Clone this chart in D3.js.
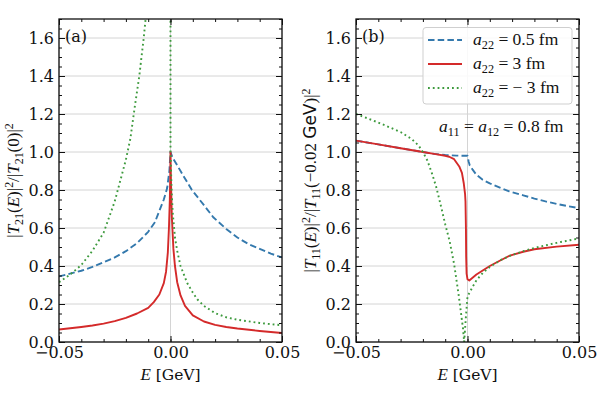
<!DOCTYPE html>
<html>
<head>
<meta charset="utf-8">
<script src="https://cdn.jsdelivr.net/npm/d3@7"></script>
<style>
  body { margin: 0; background: #fff; }
  text { white-space: pre; }
</style>
</head>
<body>
<svg id="chart" width="600" height="395"></svg>
<script>
// values, [E in GeV, ratio]
const blueA = [[-0.05,0.345],[-0.045,0.36],[-0.04,0.375],[-0.035,0.395],[-0.03,0.42],[-0.025,0.445],[-0.02,0.478],
  [-0.015,0.52],[-0.01,0.58],[-0.007,0.63],[-0.005,0.69],[-0.003,0.75],[-0.0015,0.81],[-0.0005,0.9],[0,1.0],
  [0.001,0.968],[0.003,0.93],[0.006,0.87],[0.0096,0.8],[0.015,0.72],[0.0193,0.655],[0.025,0.595],[0.03,0.55],
  [0.035,0.515],[0.04,0.49],[0.045,0.465],[0.05,0.445]];
const redA = [[-0.05,0.066],[-0.045,0.072],[-0.04,0.079],[-0.035,0.087],[-0.03,0.097],[-0.025,0.11],[-0.02,0.127],
  [-0.015,0.15],[-0.01,0.18],[-0.0075,0.21],[-0.005,0.25],[-0.003,0.31],[-0.002,0.37],[-0.0012,0.47],[-0.0007,0.6],
  [-0.0003,0.75],[-0.0001,0.88],[0,1.0],[0.0002,0.85],[0.0006,0.66],[0.0013,0.49],[0.002,0.4],[0.003,0.315],
  [0.0045,0.245],[0.0065,0.19],[0.01,0.14],[0.015,0.108],[0.02,0.09],[0.025,0.079],[0.03,0.071],[0.04,0.058],[0.05,0.047]];
const greenA = [[-0.05,0.315],[-0.045,0.355],[-0.04,0.405],[-0.035,0.48],[-0.03,0.575],[-0.025,0.74],[-0.02,0.96],
  [-0.018,1.07],[-0.016,1.24],[-0.014,1.4],[-0.012,1.6],[-0.011,1.72],[-0.009,1.95],[0,1.95],[0,1.0],
  [0.0005,0.8],[0.001,0.68],[0.002,0.55],[0.003,0.48],[0.0045,0.4],[0.0075,0.31],[0.01,0.26],[0.012,0.225],
  [0.015,0.19],[0.02,0.152],[0.025,0.13],[0.03,0.117],[0.04,0.1],[0.05,0.088]];

const blueB = [[-0.05,1.06],[-0.04,1.04],[-0.03,1.02],[-0.02,1.0],[-0.015,0.99],[-0.01,0.984],[-0.005,0.981],[0,0.98],
  [0.0005,0.95],[0.001,0.93],[0.0023,0.907],[0.004,0.88],[0.0068,0.854],[0.01,0.835],[0.015,0.81],[0.0187,0.793],
  [0.025,0.772],[0.03,0.755],[0.035,0.74],[0.04,0.727],[0.045,0.715],[0.05,0.705]];
const redB = [[-0.05,1.06],[-0.04,1.04],[-0.03,1.02],[-0.02,1.0],[-0.015,0.99],[-0.01,0.98],[-0.0082,0.975],
  [-0.006,0.962],[-0.0037,0.924],[-0.0025,0.89],[-0.0017,0.837],[-0.0011,0.78],[-0.0009,0.74],[-0.0007,0.6],
  [-0.0006,0.45],[-0.0004,0.36],[0,0.33],[0.0008,0.324],[0.002,0.336],[0.004,0.355],[0.007,0.378],[0.01,0.4],
  [0.014,0.425],[0.019,0.455],[0.025,0.475],[0.03,0.488],[0.04,0.502],[0.05,0.512]];
const greenB = [[-0.05,1.2],[-0.045,1.178],[-0.04,1.155],[-0.035,1.13],[-0.03,1.105],[-0.025,1.068],[-0.022,1.035],
  [-0.02,1.0],[-0.018,0.955],[-0.016,0.89],[-0.014,0.815],[-0.012,0.72],[-0.01,0.62],[-0.008,0.53],[-0.006,0.41],
  [-0.004,0.25],[-0.003,0.16],[-0.002,0.07],[-0.0015,0.0],[-0.0008,0.12],[0,0.24],[0.0023,0.29],[0.004,0.325],
  [0.007,0.365],[0.01,0.395],[0.015,0.432],[0.02,0.458],[0.025,0.478],[0.03,0.495],[0.04,0.522],[0.05,0.545]];

const xTicks = [-0.05, 0, 0.05];
const yTicks = [0, 0.2, 0.4, 0.6, 0.8, 1.0, 1.2, 1.4, 1.6];
const legendLabels = ["0.5 fm", "3 fm", "\u2212 3 fm"];

const W = 223, H = 323;
const MATH = "'Liberation Serif', serif";
const SERIF = "'DejaVu Serif', serif";
const styles = [
  { color: "#3479ad", dash: "6.5,3.2", width: 1.9 },
  { color: "#d42a2a", dash: null, width: 1.9 },
  { color: "#3d9a3d", dash: "1.8,3", width: 1.9 }
];

const svg = d3.select("#chart");

// mixed math text: [string, kind] with kind "", "i", "sub", "sup", "sans", "serif"
function rich(sel, parts, fs) {
  let shift = 0;
  parts.forEach(([s, kind]) => {
    const t = sel.append("tspan").text(s);
    let want = 0;
    if (kind === "i") t.attr("font-style", "italic");
    if (kind === "sub") { want = 0.24 * fs; t.attr("font-size", fs * 0.7); }
    if (kind === "sup") { want = -0.38 * fs; t.attr("font-size", fs * 0.7); }
    if (kind === "sans") t.attr("font-family", "'DejaVu Sans', sans-serif");
    if (kind === "serif") t.attr("font-family", SERIF);
    if (want !== shift) { t.attr("dy", want - shift); shift = want; }
  });
}

function drawPanel(left, top, series, tag, yParts) {
  const g = svg.append("g").attr("transform", "translate(" + left + "," + top + ")");
  const x = d3.scaleLinear().domain([-0.05, 0.05]).range([0, W]);
  const y = d3.scaleLinear().domain([0, 1.7]).range([H, 0]);

  // grid
  g.append("g").selectAll("line").data(yTicks).join("line")
    .attr("x1", 0).attr("x2", W).attr("y1", d => y(d)).attr("y2", d => y(d))
    .attr("stroke", "#d4d4d4").attr("stroke-width", 1);
  g.append("g").selectAll("line").data(xTicks).join("line")
    .attr("x1", d => x(d)).attr("x2", d => x(d)).attr("y1", 0).attr("y2", H)
    .attr("stroke", "#d4d4d4").attr("stroke-width", 1);

  const clipId = "clip" + tag;
  g.append("clipPath").attr("id", clipId).append("rect").attr("width", W).attr("height", H);

  const line = d3.line().x(d => x(d[0])).y(d => y(d[1]));
  series.forEach((data, i) => {
    const s = styles[i];
    g.append("path").datum(data)
      .attr("clip-path", "url(#" + clipId + ")")
      .attr("fill", "none")
      .attr("stroke", s.color)
      .attr("stroke-width", s.width)
      .attr("stroke-dasharray", s.dash)
      .attr("stroke-linejoin", "round")
      .attr("d", line);
  });

  const minorX = d3.range(-0.05, 0.0501, 0.01);
  const minorY = d3.range(0, 1.701, 0.05);
  const axes = [
    [d3.axisBottom, "translate(0," + H + ")", x, true],
    [d3.axisTop, "translate(0,0)", x, false],
    [d3.axisLeft, "translate(0,0)", y, true],
    [d3.axisRight, "translate(" + W + ",0)", y, false]
  ];
  axes.forEach(([ax, tr, sc, labels]) => {
    const isX = sc === x;
    g.append("g").attr("transform", tr)
      .call(ax(sc).tickValues(isX ? minorX : minorY).tickSize(-3).tickFormat(""))
      .call(a => a.select(".domain").remove());
    const major = g.append("g").attr("transform", tr)
      .call(ax(sc).tickValues(isX ? xTicks : yTicks).tickSize(-6).tickPadding(5)
        .tickFormat(labels ? d3.format(isX ? ".2f" : ".1f") : ""));
    major.select(".domain").remove();
    major.selectAll("text").attr("font-family", SERIF).attr("font-size", 16).attr("fill", "#111");
  });
  g.selectAll(".tick line").attr("stroke", "#111").attr("stroke-width", 1);

  g.append("rect").attr("width", W).attr("height", H)
    .attr("fill", "none").attr("stroke", "#111").attr("stroke-width", 1.3);

  g.append("text").attr("x", 6).attr("y", 23)
    .attr("font-family", SERIF).attr("font-size", 16).attr("fill", "#111")
    .text("(" + tag + ")");

  const xl = g.append("text").attr("x", W / 2).attr("y", H + 38)
    .attr("text-anchor", "middle").attr("font-family", MATH).attr("font-size", 17).attr("fill", "#111");
  rich(xl, [["E", "i"], [" [GeV]", "serif"]], 17);
  xl.selectAll("tspan").filter((d, i) => i === 1).attr("font-size", 15.5);

  const yl = g.append("text")
    .attr("transform", "translate(-40," + (H / 2) + ") rotate(-90)")
    .attr("text-anchor", "middle").attr("font-family", MATH).attr("font-size", 17).attr("fill", "#111");
  rich(yl, yParts, 17);

  return { g, x, y };
}

drawPanel(59, 19, [blueA, redA, greenA], "a",
  [["|", ""], ["T", "i"], ["21", "sub"], ["(", ""], ["E", "i"], [")|", ""], ["2", "sup"], ["/|", ""],
   ["T", "i"], ["21", "sub"], ["(0)|", ""], ["2", "sup"]]);

const pb = drawPanel(356, 19, [blueB, redB, greenB], "b",
  [["|", ""], ["T", "i"], ["11", "sub"], ["(", ""], ["E", "i"], [")|", ""], ["2", "sup"], ["/|", ""],
   ["T", "i"], ["11", "sub"], ["(\u22120.02 ", ""], ["GeV", "sans"], [")|", ""], ["2", "sup"]]);

// legend
const lg = pb.g.append("g").attr("transform", "translate(67,8.5)");
lg.append("rect").attr("width", 149).attr("height", 76.5).attr("rx", 3)
  .attr("fill", "#fff").attr("fill-opacity", 0.85).attr("stroke", "#cfcfcf").attr("stroke-width", 1);
legendLabels.forEach((lab, i) => {
  const s = styles[i];
  const cy = 12.5 + i * 24;
  lg.append("line").attr("x1", 5).attr("x2", 39).attr("y1", cy).attr("y2", cy)
    .attr("stroke", s.color).attr("stroke-width", s.width).attr("stroke-dasharray", s.dash);
  const t = lg.append("text").attr("x", 50).attr("y", cy + 5)
    .attr("font-family", MATH).attr("font-size", 17.5).attr("fill", "#111");
  rich(t, [["a", "i"], ["22", "sub"], [" = " + lab, ""]], 17.5);
});

const ann = pb.g.append("text").attr("x", 83).attr("y", 113)
  .attr("font-family", MATH).attr("font-size", 17.5).attr("fill", "#111");
rich(ann, [["a", "i"], ["11", "sub"], [" = ", ""], ["a", "i"], ["12", "sub"], [" = 0.8 fm", ""]], 17.5);
</script>
</body>
</html>
